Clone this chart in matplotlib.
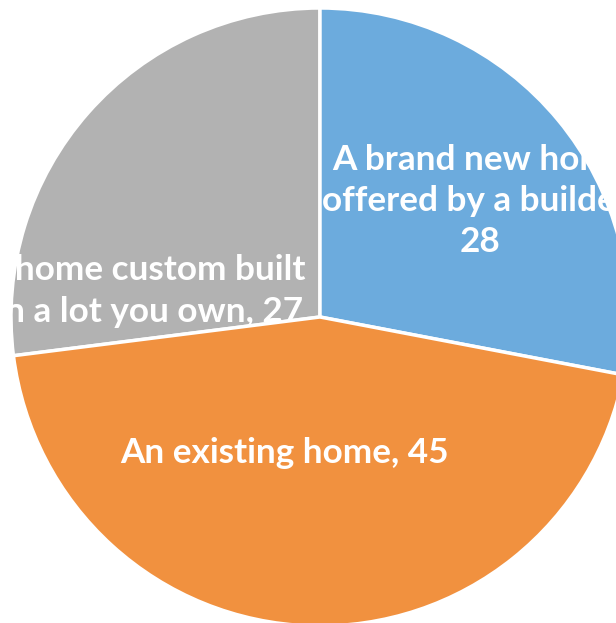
import matplotlib
matplotlib.use("Agg")
import matplotlib.pyplot as plt

# home type preference, share of responses
categories = ["A brand new home\noffered by a builder,\n28",
              "An existing home, 45",
              "A home custom built\non a lot you own, 27"]
values = [28, 45, 27]
colors = ["#6CABDD", "#F1913F", "#B2B2B2"]

# label anchor points (pixel space of the canvas, y up)
label_xy = [(480, 422), (285, 170), (144, 332)]

W, H = 616, 623
fig = plt.figure(figsize=(W / 100, H / 100), dpi=100)
ax = fig.add_axes([0, 0, 1, 1])

wedges, _ = ax.pie(values, colors=colors, startangle=90, counterclock=False,
                   center=(320, 306), radius=309, frame=True,
                   wedgeprops=dict(edgecolor="white", linewidth=2.5))
# the gray label sits under the neighbouring orange wedge's edge
wedges[0].set_zorder(2)
wedges[1].set_zorder(2)
wedges[2].set_zorder(1)

for i, (lab, (x, y)) in enumerate(zip(categories, label_xy)):
    ax.text(x, y, lab, ha="center", va="center", multialignment="center",
            color="white", fontsize=25.3, fontweight="bold", family="Lato",
            linespacing=1.36, zorder=1.5 if i == 2 else 3)

ax.set_xlim(0, W)
ax.set_ylim(0, H)
ax.set_aspect("equal")
ax.axis("off")

fig.savefig("out.png", dpi=100)
